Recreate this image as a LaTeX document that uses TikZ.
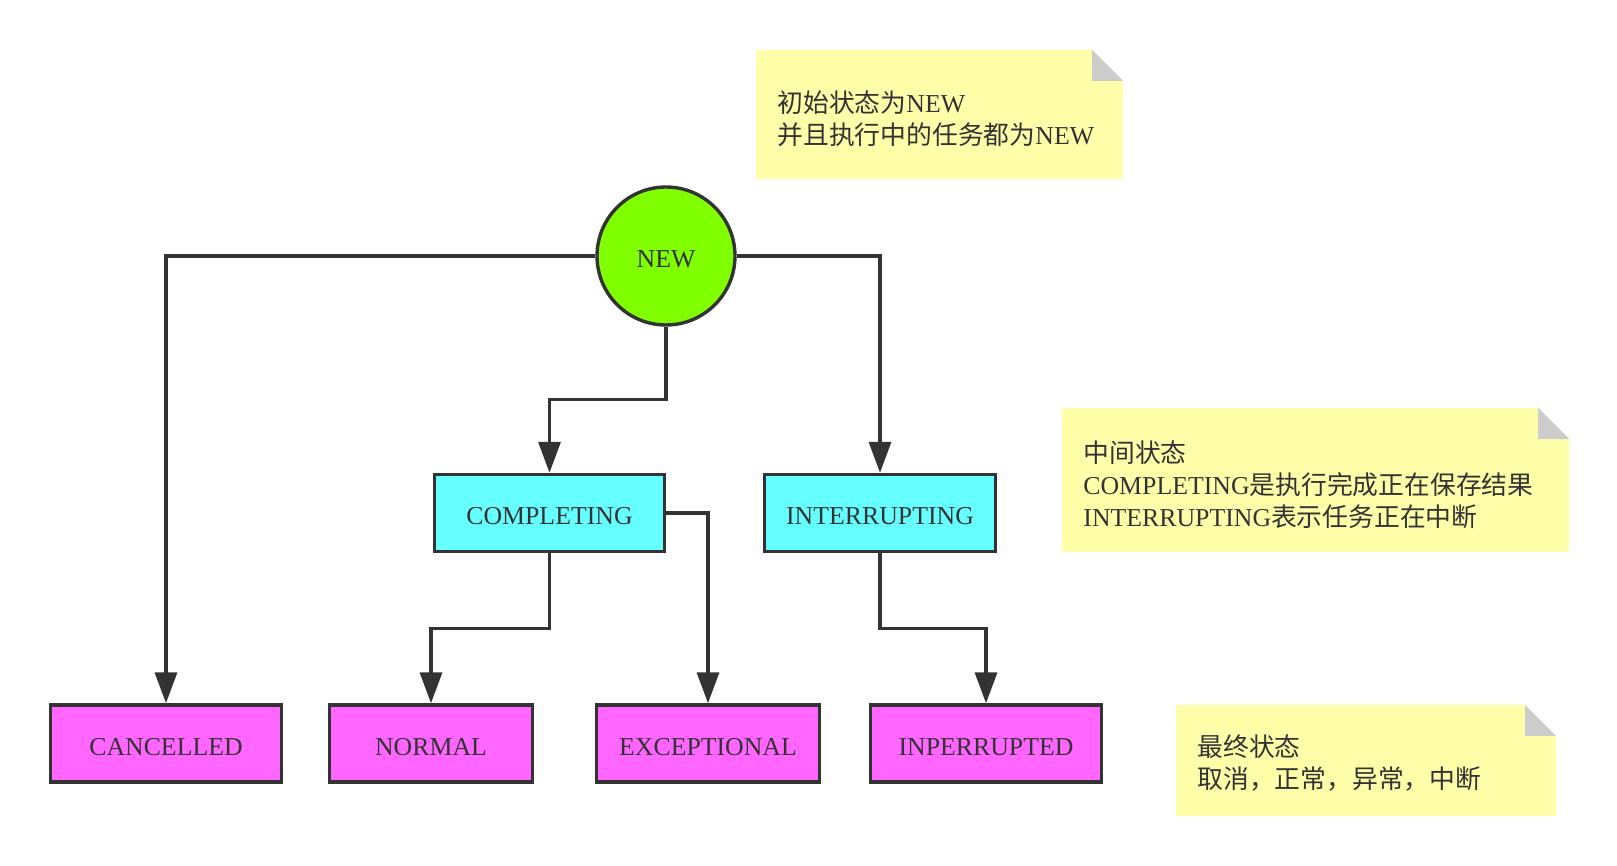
\documentclass[tikz,border=0pt]{standalone}
\usepackage{fontspec}
\setmainfont{Liberation Serif}
\newfontfamily\cjk{Noto Sans CJK SC}
\newcommand{\zh}[1]{{\cjk #1}}
\usetikzlibrary{arrows.meta,calc,positioning}
\definecolor{ink}{HTML}{333333}
\definecolor{newgreen}{HTML}{80FF00}
\definecolor{midcyan}{HTML}{66FFFF}
\definecolor{endpink}{HTML}{FF66FF}
\definecolor{notey}{HTML}{FFFFAA}
\definecolor{foldgray}{HTML}{CCCCCC}
% note paper: left, top, right, bottom
\newcommand{\notebg}[4]{%
  \fill[notey] (#1,#2) -- (#3-31,#2) -- (#3,#2+31) -- (#3,#4) -- (#1,#4) -- cycle;
  \fill[foldgray] (#3-31,#2) -- (#3,#2+31) -- (#3-31,#2+31) -- cycle;}
\tikzset{
  state/.style={draw=ink,line width=1.7pt,text=ink,minimum height=38.5pt,inner sep=0pt,
    text height=11.5pt,text depth=0pt},
  startstate/.style={state,circle,fill=newgreen,minimum size=69pt},
  midstate/.style={state,fill=midcyan,minimum width=#1},
  endstate/.style={state,fill=endpink,minimum width=#1},
  flow/.style={draw=ink,line width=1.7pt,-{Triangle[length=15.5pt,width=11pt]}},
  notetext/.style={anchor=west,align=left,inner sep=0pt,text=ink}
}
\begin{document}
\begin{tikzpicture}[x=0.5pt,y=-0.5pt,font=\fontsize{12.9}{16}\selectfont]
  \useasboundingbox (0,0) rectangle (1617,866);
  % notes
  \notebg{756}{50}{1123}{179}
  \node[notetext] (note1) at (777,119) {\zh{初始状态为}NEW\\\zh{并且执行中的任务都为}NEW};
  \notebg{1062}{408}{1569}{552}
  \node[notetext] (note2) at (1083,484.5) {\zh{中间状态}\\COMPLETING\zh{是执行完成正在保存结果}\\INTERRUPTING\zh{表示任务正在中断}};
  \notebg{1176}{705}{1556}{816}
  \node[notetext] (note3) at (1197,763) {\zh{最终状态}\\\zh{取消，正常，异常，中断}};
  % states
  \node[startstate] (NEW) at (666,256) {NEW};
  \node[midstate=115pt] (COMP) at (549.5,513) {COMPLETING};
  \node[midstate=115.5pt] (INT) at (880,513) {INTERRUPTING};
  \node[endstate=115.5pt] (CAN) at (166,743.5) {CANCELLED};
  \node[endstate=101.5pt] (NOR) at (431,743.5) {NORMAL};
  \node[endstate=111.5pt] (EXC) at (708,743.5) {EXCEPTIONAL};
  \node[endstate=115.5pt] (INP) at (986,743.5) {INPERRUPTED};
  % transitions
  \draw[flow] (NEW.west) -| (CAN.north);
  \draw[flow] (NEW.east) -| (INT.north);
  \draw[flow] (NEW.south) |- ($(NEW.south)!0.5!(COMP.north)$) -| (COMP.north);
  \draw[flow] (COMP.south) |- ($(COMP.south)!0.5!(NOR.north)$) -| (NOR.north);
  \draw[flow] (COMP.east) -| (EXC.north);
  \draw[flow] (INT.south) |- ($(INT.south)!0.5!(INP.north)$) -| (INP.north);
\end{tikzpicture}
\end{document}
